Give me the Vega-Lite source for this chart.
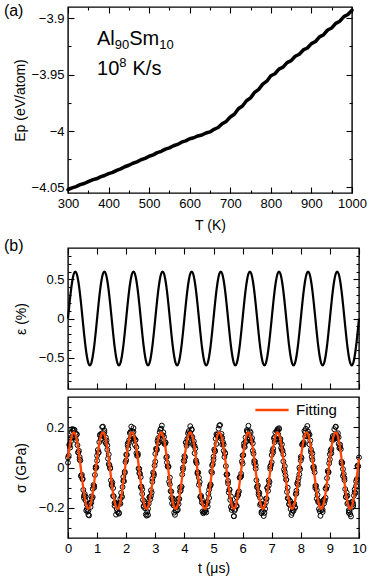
{
"$schema":"https://vega.github.io/schema/vega-lite/v6.json",
"padding":{"top":2,"left":3,"right":3,"bottom":3},
"config":{"view":{"stroke":"black","strokeWidth":1.4},"font":"Liberation Sans","text":{"font":"Liberation Sans"},
"axis":{"labelFont":"Liberation Sans","titleFont":"Liberation Sans","labelFontSize":13,"titleFontSize":14,"titleFontWeight":"normal","labelColor":"black","titleColor":"black","tickColor":"black","tickWidth":1.1,"domain":false,"grid":false,"labelOverlap":false,"labelFlush":false}},
"datasets":{
"ep":[{"T":300,"Ep":-4.0521},{"T":310,"Ep":-4.0504},{"T":320,"Ep":-4.0493},{"T":330,"Ep":-4.0476},{"T":340,"Ep":-4.0466},{"T":350,"Ep":-4.0449},{"T":360,"Ep":-4.0434},{"T":370,"Ep":-4.0424},{"T":380,"Ep":-4.0407},{"T":390,"Ep":-4.0395},{"T":400,"Ep":-4.0378},{"T":410,"Ep":-4.0367},{"T":420,"Ep":-4.0349},{"T":430,"Ep":-4.0336},{"T":440,"Ep":-4.0317},{"T":450,"Ep":-4.0304},{"T":460,"Ep":-4.0286},{"T":470,"Ep":-4.0274},{"T":480,"Ep":-4.0255},{"T":490,"Ep":-4.0243},{"T":500,"Ep":-4.0224},{"T":510,"Ep":-4.0212},{"T":520,"Ep":-4.0192},{"T":530,"Ep":-4.018},{"T":540,"Ep":-4.0161},{"T":550,"Ep":-4.015},{"T":560,"Ep":-4.0131},{"T":570,"Ep":-4.0119},{"T":580,"Ep":-4.0099},{"T":590,"Ep":-4.0088},{"T":600,"Ep":-4.0069},{"T":610,"Ep":-4.006},{"T":620,"Ep":-4.0044},{"T":630,"Ep":-4.0036},{"T":640,"Ep":-4.0018},{"T":650,"Ep":-4.0008},{"T":660,"Ep":-3.9985},{"T":670,"Ep":-3.9969},{"T":680,"Ep":-3.9935},{"T":690,"Ep":-3.9915},{"T":700,"Ep":-3.9876},{"T":710,"Ep":-3.9851},{"T":720,"Ep":-3.9803},{"T":730,"Ep":-3.9778},{"T":740,"Ep":-3.9732},{"T":750,"Ep":-3.9706},{"T":760,"Ep":-3.9657},{"T":770,"Ep":-3.9631},{"T":780,"Ep":-3.9584},{"T":790,"Ep":-3.9558},{"T":800,"Ep":-3.951},{"T":810,"Ep":-3.9492},{"T":820,"Ep":-3.9451},{"T":830,"Ep":-3.9434},{"T":840,"Ep":-3.9394},{"T":850,"Ep":-3.9376},{"T":860,"Ep":-3.9337},{"T":870,"Ep":-3.9319},{"T":880,"Ep":-3.9281},{"T":890,"Ep":-3.9264},{"T":900,"Ep":-3.9225},{"T":910,"Ep":-3.9206},{"T":920,"Ep":-3.9165},{"T":930,"Ep":-3.9146},{"T":940,"Ep":-3.9104},{"T":950,"Ep":-3.9086},{"T":960,"Ep":-3.9045},{"T":970,"Ep":-3.9026},{"T":980,"Ep":-3.8985},{"T":990,"Ep":-3.8966},{"T":1000,"Ep":-3.8928}],
"curves":[
{"t":0,"e":0,"f":0.044},{"t":0.05,"e":0.185,"f":0.097},{"t":0.1,"e":0.353,"f":0.139},{"t":0.15,"e":0.485,"f":0.166},{"t":0.2,"e":0.571,"f":0.175},{"t":0.25,"e":0.6,"f":0.166},{"t":0.3,"e":0.571,"f":0.139},{"t":0.35,"e":0.485,"f":0.097},{"t":0.4,"e":0.353,"f":0.044},{"t":0.45,"e":0.185,"f":-0.015},{"t":0.5,"e":0,"f":-0.074},{"t":0.55,"e":-0.185,"f":-0.127},{"t":0.6,"e":-0.353,"f":-0.169},{"t":0.65,"e":-0.485,"f":-0.196},{"t":0.7,"e":-0.571,"f":-0.205},{"t":0.75,"e":-0.6,"f":-0.196},{"t":0.8,"e":-0.571,"f":-0.169},{"t":0.85,"e":-0.485,"f":-0.127},{"t":0.9,"e":-0.353,"f":-0.074},{"t":0.95,"e":-0.185,"f":-0.015},
{"t":1,"e":0,"f":0.044},{"t":1.05,"e":0.185,"f":0.097},{"t":1.1,"e":0.353,"f":0.139},{"t":1.15,"e":0.485,"f":0.166},{"t":1.2,"e":0.571,"f":0.175},{"t":1.25,"e":0.6,"f":0.166},{"t":1.3,"e":0.571,"f":0.139},{"t":1.35,"e":0.485,"f":0.097},{"t":1.4,"e":0.353,"f":0.044},{"t":1.45,"e":0.185,"f":-0.015},{"t":1.5,"e":0,"f":-0.074},{"t":1.55,"e":-0.185,"f":-0.127},{"t":1.6,"e":-0.353,"f":-0.169},{"t":1.65,"e":-0.485,"f":-0.196},{"t":1.7,"e":-0.571,"f":-0.205},{"t":1.75,"e":-0.6,"f":-0.196},{"t":1.8,"e":-0.571,"f":-0.169},{"t":1.85,"e":-0.485,"f":-0.127},{"t":1.9,"e":-0.353,"f":-0.074},{"t":1.95,"e":-0.185,"f":-0.015},
{"t":2,"e":0,"f":0.044},{"t":2.05,"e":0.185,"f":0.097},{"t":2.1,"e":0.353,"f":0.139},{"t":2.15,"e":0.485,"f":0.166},{"t":2.2,"e":0.571,"f":0.175},{"t":2.25,"e":0.6,"f":0.166},{"t":2.3,"e":0.571,"f":0.139},{"t":2.35,"e":0.485,"f":0.097},{"t":2.4,"e":0.353,"f":0.044},{"t":2.45,"e":0.185,"f":-0.015},{"t":2.5,"e":0,"f":-0.074},{"t":2.55,"e":-0.185,"f":-0.127},{"t":2.6,"e":-0.353,"f":-0.169},{"t":2.65,"e":-0.485,"f":-0.196},{"t":2.7,"e":-0.571,"f":-0.205},{"t":2.75,"e":-0.6,"f":-0.196},{"t":2.8,"e":-0.571,"f":-0.169},{"t":2.85,"e":-0.485,"f":-0.127},{"t":2.9,"e":-0.353,"f":-0.074},{"t":2.95,"e":-0.185,"f":-0.015},
{"t":3,"e":0,"f":0.044},{"t":3.05,"e":0.185,"f":0.097},{"t":3.1,"e":0.353,"f":0.139},{"t":3.15,"e":0.485,"f":0.166},{"t":3.2,"e":0.571,"f":0.175},{"t":3.25,"e":0.6,"f":0.166},{"t":3.3,"e":0.571,"f":0.139},{"t":3.35,"e":0.485,"f":0.097},{"t":3.4,"e":0.353,"f":0.044},{"t":3.45,"e":0.185,"f":-0.015},{"t":3.5,"e":0,"f":-0.074},{"t":3.55,"e":-0.185,"f":-0.127},{"t":3.6,"e":-0.353,"f":-0.169},{"t":3.65,"e":-0.485,"f":-0.196},{"t":3.7,"e":-0.571,"f":-0.205},{"t":3.75,"e":-0.6,"f":-0.196},{"t":3.8,"e":-0.571,"f":-0.169},{"t":3.85,"e":-0.485,"f":-0.127},{"t":3.9,"e":-0.353,"f":-0.074},{"t":3.95,"e":-0.185,"f":-0.015},
{"t":4,"e":0,"f":0.044},{"t":4.05,"e":0.185,"f":0.097},{"t":4.1,"e":0.353,"f":0.139},{"t":4.15,"e":0.485,"f":0.166},{"t":4.2,"e":0.571,"f":0.175},{"t":4.25,"e":0.6,"f":0.166},{"t":4.3,"e":0.571,"f":0.139},{"t":4.35,"e":0.485,"f":0.097},{"t":4.4,"e":0.353,"f":0.044},{"t":4.45,"e":0.185,"f":-0.015},{"t":4.5,"e":0,"f":-0.074},{"t":4.55,"e":-0.185,"f":-0.127},{"t":4.6,"e":-0.353,"f":-0.169},{"t":4.65,"e":-0.485,"f":-0.196},{"t":4.7,"e":-0.571,"f":-0.205},{"t":4.75,"e":-0.6,"f":-0.196},{"t":4.8,"e":-0.571,"f":-0.169},{"t":4.85,"e":-0.485,"f":-0.127},{"t":4.9,"e":-0.353,"f":-0.074},{"t":4.95,"e":-0.185,"f":-0.015},
{"t":5,"e":0,"f":0.044},{"t":5.05,"e":0.185,"f":0.097},{"t":5.1,"e":0.353,"f":0.139},{"t":5.15,"e":0.485,"f":0.166},{"t":5.2,"e":0.571,"f":0.175},{"t":5.25,"e":0.6,"f":0.166},{"t":5.3,"e":0.571,"f":0.139},{"t":5.35,"e":0.485,"f":0.097},{"t":5.4,"e":0.353,"f":0.044},{"t":5.45,"e":0.185,"f":-0.015},{"t":5.5,"e":0,"f":-0.074},{"t":5.55,"e":-0.185,"f":-0.127},{"t":5.6,"e":-0.353,"f":-0.169},{"t":5.65,"e":-0.485,"f":-0.196},{"t":5.7,"e":-0.571,"f":-0.205},{"t":5.75,"e":-0.6,"f":-0.196},{"t":5.8,"e":-0.571,"f":-0.169},{"t":5.85,"e":-0.485,"f":-0.127},{"t":5.9,"e":-0.353,"f":-0.074},{"t":5.95,"e":-0.185,"f":-0.015},
{"t":6,"e":0,"f":0.044},{"t":6.05,"e":0.185,"f":0.097},{"t":6.1,"e":0.353,"f":0.139},{"t":6.15,"e":0.485,"f":0.166},{"t":6.2,"e":0.571,"f":0.175},{"t":6.25,"e":0.6,"f":0.166},{"t":6.3,"e":0.571,"f":0.139},{"t":6.35,"e":0.485,"f":0.097},{"t":6.4,"e":0.353,"f":0.044},{"t":6.45,"e":0.185,"f":-0.015},{"t":6.5,"e":0,"f":-0.074},{"t":6.55,"e":-0.185,"f":-0.127},{"t":6.6,"e":-0.353,"f":-0.169},{"t":6.65,"e":-0.485,"f":-0.196},{"t":6.7,"e":-0.571,"f":-0.205},{"t":6.75,"e":-0.6,"f":-0.196},{"t":6.8,"e":-0.571,"f":-0.169},{"t":6.85,"e":-0.485,"f":-0.127},{"t":6.9,"e":-0.353,"f":-0.074},{"t":6.95,"e":-0.185,"f":-0.015},
{"t":7,"e":0,"f":0.044},{"t":7.05,"e":0.185,"f":0.097},{"t":7.1,"e":0.353,"f":0.139},{"t":7.15,"e":0.485,"f":0.166},{"t":7.2,"e":0.571,"f":0.175},{"t":7.25,"e":0.6,"f":0.166},{"t":7.3,"e":0.571,"f":0.139},{"t":7.35,"e":0.485,"f":0.097},{"t":7.4,"e":0.353,"f":0.044},{"t":7.45,"e":0.185,"f":-0.015},{"t":7.5,"e":0,"f":-0.074},{"t":7.55,"e":-0.185,"f":-0.127},{"t":7.6,"e":-0.353,"f":-0.169},{"t":7.65,"e":-0.485,"f":-0.196},{"t":7.7,"e":-0.571,"f":-0.205},{"t":7.75,"e":-0.6,"f":-0.196},{"t":7.8,"e":-0.571,"f":-0.169},{"t":7.85,"e":-0.485,"f":-0.127},{"t":7.9,"e":-0.353,"f":-0.074},{"t":7.95,"e":-0.185,"f":-0.015},
{"t":8,"e":0,"f":0.044},{"t":8.05,"e":0.185,"f":0.097},{"t":8.1,"e":0.353,"f":0.139},{"t":8.15,"e":0.485,"f":0.166},{"t":8.2,"e":0.571,"f":0.175},{"t":8.25,"e":0.6,"f":0.166},{"t":8.3,"e":0.571,"f":0.139},{"t":8.35,"e":0.485,"f":0.097},{"t":8.4,"e":0.353,"f":0.044},{"t":8.45,"e":0.185,"f":-0.015},{"t":8.5,"e":0,"f":-0.074},{"t":8.55,"e":-0.185,"f":-0.127},{"t":8.6,"e":-0.353,"f":-0.169},{"t":8.65,"e":-0.485,"f":-0.196},{"t":8.7,"e":-0.571,"f":-0.205},{"t":8.75,"e":-0.6,"f":-0.196},{"t":8.8,"e":-0.571,"f":-0.169},{"t":8.85,"e":-0.485,"f":-0.127},{"t":8.9,"e":-0.353,"f":-0.074},{"t":8.95,"e":-0.185,"f":-0.015},
{"t":9,"e":0,"f":0.044},{"t":9.05,"e":0.185,"f":0.097},{"t":9.1,"e":0.353,"f":0.139},{"t":9.15,"e":0.485,"f":0.166},{"t":9.2,"e":0.571,"f":0.175},{"t":9.25,"e":0.6,"f":0.166},{"t":9.3,"e":0.571,"f":0.139},{"t":9.35,"e":0.485,"f":0.097},{"t":9.4,"e":0.353,"f":0.044},{"t":9.45,"e":0.185,"f":-0.015},{"t":9.5,"e":0,"f":-0.074},{"t":9.55,"e":-0.185,"f":-0.127},{"t":9.6,"e":-0.353,"f":-0.169},{"t":9.65,"e":-0.485,"f":-0.196},{"t":9.7,"e":-0.571,"f":-0.205},{"t":9.75,"e":-0.6,"f":-0.196},{"t":9.8,"e":-0.571,"f":-0.169},{"t":9.85,"e":-0.485,"f":-0.127},{"t":9.9,"e":-0.353,"f":-0.074},{"t":9.95,"e":-0.185,"f":-0.015},
{"t":10,"e":0,"f":0.044}],
"sig":[
{"t":0,"s":0.049},{"t":0.025,"s":0.059},{"t":0.05,"s":0.115},{"t":0.075,"s":0.099},{"t":0.1,"s":0.147},{"t":0.125,"s":0.176},{"t":0.15,"s":0.151},{"t":0.175,"s":0.183},{"t":0.2,"s":0.15},{"t":0.225,"s":0.187},{"t":0.25,"s":0.169},{"t":0.275,"s":0.136},{"t":0.3,"s":0.164},{"t":0.325,"s":0.111},{"t":0.35,"s":0.075},{"t":0.375,"s":0.083},{"t":0.4,"s":0.039},{"t":0.425,"s":0.035},{"t":0.45,"s":-0.043},{"t":0.475,"s":-0.036},{"t":0.5,"s":-0.059},{"t":0.525,"s":-0.111},{"t":0.55,"s":-0.151},{"t":0.575,"s":-0.132},{"t":0.6,"s":-0.163},{"t":0.625,"s":-0.214},{"t":0.65,"s":-0.184},{"t":0.675,"s":-0.219},{"t":0.7,"s":-0.213},{"t":0.725,"s":-0.238},{"t":0.75,"s":-0.176},{"t":0.775,"s":-0.196},{"t":0.8,"s":-0.144},{"t":0.825,"s":-0.154},{"t":0.85,"s":-0.147},{"t":0.875,"s":-0.087},{"t":0.9,"s":-0.1},{"t":0.925,"s":-0.037},{"t":0.95,"s":0.003},{"t":0.975,"s":0.001},
{"t":1,"s":0.034},{"t":1.025,"s":0.087},{"t":1.05,"s":0.075},{"t":1.075,"s":0.126},{"t":1.1,"s":0.163},{"t":1.125,"s":0.141},{"t":1.15,"s":0.168},{"t":1.175,"s":0.201},{"t":1.2,"s":0.157},{"t":1.225,"s":0.167},{"t":1.25,"s":0.185},{"t":1.275,"s":0.129},{"t":1.3,"s":0.149},{"t":1.325,"s":0.134},{"t":1.35,"s":0.088},{"t":1.375,"s":0.044},{"t":1.4,"s":0.065},{"t":1.425,"s":0.011},{"t":1.45,"s":-0.002},{"t":1.475,"s":-0.064},{"t":1.5,"s":-0.082},{"t":1.525,"s":-0.075},{"t":1.55,"s":-0.141},{"t":1.575,"s":-0.144},{"t":1.6,"s":-0.19},{"t":1.625,"s":-0.173},{"t":1.65,"s":-0.234},{"t":1.675,"s":-0.206},{"t":1.7,"s":-0.22},{"t":1.725,"s":-0.181},{"t":1.75,"s":-0.224},{"t":1.775,"s":-0.175},{"t":1.8,"s":-0.18},{"t":1.825,"s":-0.126},{"t":1.85,"s":-0.144},{"t":1.875,"s":-0.097},{"t":1.9,"s":-0.047},{"t":1.925,"s":-0.068},{"t":1.95,"s":-0.021},{"t":1.975,"s":0.027},
{"t":2,"s":0.064},{"t":2.025,"s":0.063},{"t":2.05,"s":0.109},{"t":2.075,"s":0.094},{"t":2.1,"s":0.135},{"t":2.125,"s":0.171},{"t":2.15,"s":0.145},{"t":2.175,"s":0.203},{"t":2.2,"s":0.181},{"t":2.225,"s":0.158},{"t":2.25,"s":0.177},{"t":2.275,"s":0.145},{"t":2.3,"s":0.112},{"t":2.325,"s":0.137},{"t":2.35,"s":0.101},{"t":2.375,"s":0.058},{"t":2.4,"s":0.069},{"t":2.425,"s":-0.005},{"t":2.45,"s":-0.007},{"t":2.475,"s":-0.031},{"t":2.5,"s":-0.097},{"t":2.525,"s":-0.095},{"t":2.55,"s":-0.108},{"t":2.575,"s":-0.161},{"t":2.6,"s":-0.195},{"t":2.625,"s":-0.168},{"t":2.65,"s":-0.203},{"t":2.675,"s":-0.233},{"t":2.7,"s":-0.192},{"t":2.725,"s":-0.221},{"t":2.75,"s":-0.236},{"t":2.775,"s":-0.179},{"t":2.8,"s":-0.148},{"t":2.825,"s":-0.158},{"t":2.85,"s":-0.113},{"t":2.875,"s":-0.125},{"t":2.9,"s":-0.071},{"t":2.925,"s":-0.025},{"t":2.95,"s":-0.031},{"t":2.975,"s":0.01},
{"t":3,"s":0.029},{"t":3.025,"s":0.093},{"t":3.05,"s":0.092},{"t":3.075,"s":0.132},{"t":3.1,"s":0.12},{"t":3.125,"s":0.126},{"t":3.15,"s":0.175},{"t":3.175,"s":0.188},{"t":3.2,"s":0.163},{"t":3.225,"s":0.208},{"t":3.25,"s":0.16},{"t":3.275,"s":0.175},{"t":3.3,"s":0.122},{"t":3.325,"s":0.116},{"t":3.35,"s":0.123},{"t":3.375,"s":0.049},{"t":3.4,"s":0.054},{"t":3.425,"s":0.004},{"t":3.45,"s":0.003},{"t":3.475,"s":-0.071},{"t":3.5,"s":-0.05},{"t":3.525,"s":-0.117},{"t":3.55,"s":-0.12},{"t":3.575,"s":-0.178},{"t":3.6,"s":-0.157},{"t":3.625,"s":-0.188},{"t":3.65,"s":-0.176},{"t":3.675,"s":-0.235},{"t":3.7,"s":-0.215},{"t":3.725,"s":-0.195},{"t":3.75,"s":-0.214},{"t":3.775,"s":-0.209},{"t":3.8,"s":-0.154},{"t":3.825,"s":-0.156},{"t":3.85,"s":-0.099},{"t":3.875,"s":-0.114},{"t":3.9,"s":-0.095},{"t":3.925,"s":-0.035},{"t":3.95,"s":-0.01},{"t":3.975,"s":0.034},
{"t":4,"s":0.056},{"t":4.025,"s":0.051},{"t":4.05,"s":0.124},{"t":4.075,"s":0.108},{"t":4.1,"s":0.142},{"t":4.125,"s":0.17},{"t":4.15,"s":0.142},{"t":4.175,"s":0.166},{"t":4.2,"s":0.205},{"t":4.225,"s":0.159},{"t":4.25,"s":0.187},{"t":4.275,"s":0.151},{"t":4.3,"s":0.12},{"t":4.325,"s":0.13},{"t":4.35,"s":0.071},{"t":4.375,"s":0.095},{"t":4.4,"s":0.035},{"t":4.425,"s":0.021},{"t":4.45,"s":-0.03},{"t":4.475,"s":-0.025},{"t":4.5,"s":-0.086},{"t":4.525,"s":-0.072},{"t":4.55,"s":-0.147},{"t":4.575,"s":-0.141},{"t":4.6,"s":-0.174},{"t":4.625,"s":-0.218},{"t":4.65,"s":-0.181},{"t":4.675,"s":-0.221},{"t":4.7,"s":-0.183},{"t":4.725,"s":-0.212},{"t":4.75,"s":-0.223},{"t":4.775,"s":-0.171},{"t":4.8,"s":-0.172},{"t":4.825,"s":-0.13},{"t":4.85,"s":-0.151},{"t":4.875,"s":-0.094},{"t":4.9,"s":-0.088},{"t":4.925,"s":-0.02},{"t":4.95,"s":-0.026},{"t":4.975,"s":0.017},
{"t":5,"s":0.038},{"t":5.025,"s":0.089},{"t":5.05,"s":0.083},{"t":5.075,"s":0.143},{"t":5.1,"s":0.117},{"t":5.125,"s":0.163},{"t":5.15,"s":0.163},{"t":5.175,"s":0.193},{"t":5.2,"s":0.159},{"t":5.225,"s":0.211},{"t":5.25,"s":0.156},{"t":5.275,"s":0.167},{"t":5.3,"s":0.114},{"t":5.325,"s":0.125},{"t":5.35,"s":0.114},{"t":5.375,"s":0.052},{"t":5.4,"s":0.072},{"t":5.425,"s":0.007},{"t":5.45,"s":-0.036},{"t":5.475,"s":-0.034},{"t":5.5,"s":-0.067},{"t":5.525,"s":-0.124},{"t":5.55,"s":-0.111},{"t":5.575,"s":-0.161},{"t":5.6,"s":-0.144},{"t":5.625,"s":-0.211},{"t":5.65,"s":-0.202},{"t":5.675,"s":-0.189},{"t":5.7,"s":-0.241},{"t":5.725,"s":-0.214},{"t":5.75,"s":-0.177},{"t":5.775,"s":-0.192},{"t":5.8,"s":-0.192},{"t":5.825,"s":-0.137},{"t":5.85,"s":-0.124},{"t":5.875,"s":-0.118},{"t":5.9,"s":-0.05},{"t":5.925,"s":-0.049},{"t":5.95,"s":-0.043},{"t":5.975,"s":0.03},
{"t":6,"s":0.06},{"t":6.025,"s":0.062},{"t":6.05,"s":0.12},{"t":6.075,"s":0.102},{"t":6.1,"s":0.149},{"t":6.125,"s":0.128},{"t":6.15,"s":0.18},{"t":6.175,"s":0.177},{"t":6.2,"s":0.207},{"t":6.225,"s":0.161},{"t":6.25,"s":0.146},{"t":6.275,"s":0.173},{"t":6.3,"s":0.134},{"t":6.325,"s":0.146},{"t":6.35,"s":0.083},{"t":6.375,"s":0.069},{"t":6.4,"s":0.021},{"t":6.425,"s":0.03},{"t":6.45,"s":-0.006},{"t":6.475,"s":-0.063},{"t":6.5,"s":-0.099},{"t":6.525,"s":-0.089},{"t":6.55,"s":-0.135},{"t":6.575,"s":-0.127},{"t":6.6,"s":-0.185},{"t":6.625,"s":-0.179},{"t":6.65,"s":-0.227},{"t":6.675,"s":-0.185},{"t":6.7,"s":-0.217},{"t":6.725,"s":-0.241},{"t":6.75,"s":-0.189},{"t":6.775,"s":-0.205},{"t":6.8,"s":-0.155},{"t":6.825,"s":-0.155},{"t":6.85,"s":-0.101},{"t":6.875,"s":-0.116},{"t":6.9,"s":-0.064},{"t":6.925,"s":-0.072},{"t":6.95,"s":0.005},{"t":6.975,"s":0.012},
{"t":7,"s":0.026},{"t":7.025,"s":0.082},{"t":7.05,"s":0.093},{"t":7.075,"s":0.145},{"t":7.1,"s":0.126},{"t":7.125,"s":0.174},{"t":7.15,"s":0.139},{"t":7.175,"s":0.181},{"t":7.2,"s":0.19},{"t":7.225,"s":0.164},{"t":7.25,"s":0.19},{"t":7.275,"s":0.138},{"t":7.3,"s":0.142},{"t":7.325,"s":0.097},{"t":7.35,"s":0.115},{"t":7.375,"s":0.082},{"t":7.4,"s":0.03},{"t":7.425,"s":-0.01},{"t":7.45,"s":0.007},{"t":7.475,"s":-0.04},{"t":7.5,"s":-0.061},{"t":7.525,"s":-0.121},{"t":7.55,"s":-0.1},{"t":7.575,"s":-0.155},{"t":7.6,"s":-0.184},{"t":7.625,"s":-0.165},{"t":7.65,"s":-0.206},{"t":7.675,"s":-0.236},{"t":7.7,"s":-0.181},{"t":7.725,"s":-0.211},{"t":7.75,"s":-0.215},{"t":7.775,"s":-0.18},{"t":7.8,"s":-0.197},{"t":7.825,"s":-0.132},{"t":7.85,"s":-0.129},{"t":7.875,"s":-0.08},{"t":7.9,"s":-0.086},{"t":7.925,"s":-0.052},{"t":7.95,"s":-0.001},{"t":7.975,"s":-0.009},
{"t":8,"s":0.053},{"t":8.025,"s":0.048},{"t":8.05,"s":0.113},{"t":8.075,"s":0.121},{"t":8.1,"s":0.124},{"t":8.125,"s":0.182},{"t":8.15,"s":0.155},{"t":8.175,"s":0.192},{"t":8.2,"s":0.155},{"t":8.225,"s":0.206},{"t":8.25,"s":0.162},{"t":8.275,"s":0.166},{"t":8.3,"s":0.115},{"t":8.325,"s":0.134},{"t":8.35,"s":0.089},{"t":8.375,"s":0.053},{"t":8.4,"s":0.07},{"t":8.425,"s":0.002},{"t":8.45,"s":-0.008},{"t":8.475,"s":-0.024},{"t":8.5,"s":-0.091},{"t":8.525,"s":-0.091},{"t":8.55,"s":-0.155},{"t":8.575,"s":-0.136},{"t":8.6,"s":-0.165},{"t":8.625,"s":-0.206},{"t":8.65,"s":-0.178},{"t":8.675,"s":-0.24},{"t":8.7,"s":-0.211},{"t":8.725,"s":-0.192},{"t":8.75,"s":-0.221},{"t":8.775,"s":-0.164},{"t":8.8,"s":-0.178},{"t":8.825,"s":-0.165},{"t":8.85,"s":-0.104},{"t":8.875,"s":-0.106},{"t":8.9,"s":-0.093},{"t":8.925,"s":-0.017},{"t":8.95,"s":-0.025},{"t":8.975,"s":0.021},
{"t":9,"s":0.04},{"t":9.025,"s":0.085},{"t":9.05,"s":0.071},{"t":9.075,"s":0.138},{"t":9.1,"s":0.146},{"t":9.125,"s":0.138},{"t":9.15,"s":0.19},{"t":9.175,"s":0.161},{"t":9.2,"s":0.203},{"t":9.225,"s":0.165},{"t":9.25,"s":0.145},{"t":9.275,"s":0.17},{"t":9.3,"s":0.15},{"t":9.325,"s":0.096},{"t":9.35,"s":0.1},{"t":9.375,"s":0.091},{"t":9.4,"s":0.029},{"t":9.425,"s":0.023},{"t":9.45,"s":-0.042},{"t":9.475,"s":-0.032},{"t":9.5,"s":-0.052},{"t":9.525,"s":-0.107},{"t":9.55,"s":-0.145},{"t":9.575,"s":-0.124},{"t":9.6,"s":-0.18},{"t":9.625,"s":-0.175},{"t":9.65,"s":-0.225},{"t":9.675,"s":-0.217},{"t":9.7,"s":-0.185},{"t":9.725,"s":-0.243},{"t":9.75,"s":-0.199},{"t":9.775,"s":-0.169},{"t":9.8,"s":-0.191},{"t":9.825,"s":-0.139},{"t":9.85,"s":-0.109},{"t":9.875,"s":-0.127},{"t":9.9,"s":-0.068},{"t":9.925,"s":-0.058},{"t":9.95,"s":0.009},{"t":9.975,"s":0.006},
{"t":10,"s":0.05},
{"t":0,"s":0.024},{"t":0.05,"s":0.111},{"t":0.1,"s":0.13},{"t":0.15,"s":0.191},{"t":0.2,"s":0.187},{"t":0.25,"s":0.148},{"t":0.3,"s":0.166},{"t":0.35,"s":0.075},{"t":0.4,"s":0.052},{"t":0.45,"s":-0.041},{"t":0.5,"s":-0.055},{"t":0.55,"s":-0.14},{"t":0.6,"s":-0.145},{"t":0.65,"s":-0.206},{"t":0.7,"s":-0.235},{"t":0.75,"s":-0.18},{"t":0.8,"s":-0.175},{"t":0.85,"s":-0.106},{"t":0.9,"s":-0.091},{"t":0.95,"s":-0.004},
{"t":1,"s":0.059},{"t":1.05,"s":0.073},{"t":1.1,"s":0.159},{"t":1.15,"s":0.159},{"t":1.2,"s":0.203},{"t":1.25,"s":0.175},{"t":1.3,"s":0.12},{"t":1.35,"s":0.11},{"t":1.4,"s":0.017},{"t":1.45,"s":-0.005},{"t":1.5,"s":-0.089},{"t":1.55,"s":-0.102},{"t":1.6,"s":-0.177},{"t":1.65,"s":-0.178},{"t":1.7,"s":-0.183},{"t":1.75,"s":-0.229},{"t":1.8,"s":-0.155},{"t":1.85,"s":-0.147},{"t":1.9,"s":-0.067},{"t":1.95,"s":-0.027},
{"t":2,"s":0.036},{"t":2.05,"s":0.119},{"t":2.1,"s":0.123},{"t":2.15,"s":0.177},{"t":2.2,"s":0.154},{"t":2.25,"s":0.196},{"t":2.3,"s":0.134},{"t":2.35,"s":0.071},{"t":2.4,"s":0.061},{"t":2.45,"s":-0.028},{"t":2.5,"s":-0.048},{"t":2.55,"s":-0.131},{"t":2.6,"s":-0.191},{"t":2.65,"s":-0.181},{"t":2.7,"s":-0.239},{"t":2.75,"s":-0.205},{"t":2.8,"s":-0.146},{"t":2.85,"s":-0.141},{"t":2.9,"s":-0.055},{"t":2.95,"s":-0.04},
{"t":3,"s":0.068},{"t":3.05,"s":0.086},{"t":3.1,"s":0.146},{"t":3.15,"s":0.143},{"t":3.2,"s":0.193},{"t":3.25,"s":0.16},{"t":3.3,"s":0.152},{"t":3.35,"s":0.125},{"t":3.4,"s":0.025},{"t":3.45,"s":0.006},{"t":3.5,"s":-0.083},{"t":3.55,"s":-0.151},{"t":3.6,"s":-0.153},{"t":3.65,"s":-0.224},{"t":3.7,"s":-0.194},{"t":3.75,"s":-0.176},{"t":3.8,"s":-0.182},{"t":3.85,"s":-0.119},{"t":3.9,"s":-0.096},{"t":3.95,"s":-0.001},
{"t":4,"s":0.031},{"t":4.05,"s":0.124},{"t":4.1,"s":0.119},{"t":4.15,"s":0.181},{"t":4.2,"s":0.171},{"t":4.25,"s":0.19},{"t":4.3,"s":0.112},{"t":4.35,"s":0.107},{"t":4.4,"s":0.028},{"t":4.45,"s":-0.023},{"t":4.5,"s":-0.051},{"t":4.55,"s":-0.145},{"t":4.6,"s":-0.16},{"t":4.65,"s":-0.227},{"t":4.7,"s":-0.22},{"t":4.75,"s":-0.184},{"t":4.8,"s":-0.194},{"t":4.85,"s":-0.11},{"t":4.9,"s":-0.084},{"t":4.95,"s":0.011},
{"t":5,"s":0.054},{"t":5.05,"s":0.08},{"t":5.1,"s":0.165},{"t":5.15,"s":0.154},{"t":5.2,"s":0.208},{"t":5.25,"s":0.145},{"t":5.3,"s":0.147},{"t":5.35,"s":0.083},{"t":5.4,"s":0.069},{"t":5.45,"s":-0.034},{"t":5.5,"s":-0.079},{"t":5.55,"s":-0.109},{"t":5.6,"s":-0.196},{"t":5.65,"s":-0.184},{"t":5.7,"s":-0.242},{"t":5.75,"s":-0.206},{"t":5.8,"s":-0.149},{"t":5.85,"s":-0.136},{"t":5.9,"s":-0.05},{"t":5.95,"s":-0.031},
{"t":6,"s":0.019},{"t":6.05,"s":0.106},{"t":6.1,"s":0.126},{"t":6.15,"s":0.186},{"t":6.2,"s":0.149},{"t":6.25,"s":0.18},{"t":6.3,"s":0.131},{"t":6.35,"s":0.12},{"t":6.4,"s":0.033},{"t":6.45,"s":0.012},{"t":6.5,"s":-0.095},{"t":6.55,"s":-0.121},{"t":6.6,"s":-0.15},{"t":6.65,"s":-0.22},{"t":6.7,"s":-0.192},{"t":6.75,"s":-0.225},{"t":6.8,"s":-0.173},{"t":6.85,"s":-0.101},{"t":6.9,"s":-0.089},{"t":6.95,"s":-0.007},
{"t":7,"s":0.062},{"t":7.05,"s":0.075},{"t":7.1,"s":0.15},{"t":7.15,"s":0.139},{"t":7.2,"s":0.182},{"t":7.25,"s":0.195},{"t":7.3,"s":0.124},{"t":7.35,"s":0.088},{"t":7.4,"s":0.065},{"t":7.45,"s":-0.021},{"t":7.5,"s":-0.06},{"t":7.55,"s":-0.152},{"t":7.6,"s":-0.181},{"t":7.65,"s":-0.171},{"t":7.7,"s":-0.225},{"t":7.75,"s":-0.187},{"t":7.8,"s":-0.2},{"t":7.85,"s":-0.115},{"t":7.9,"s":-0.069},{"t":7.95,"s":-0.034},
{"t":8,"s":0.035},{"t":8.05,"s":0.113},{"t":8.1,"s":0.114},{"t":8.15,"s":0.174},{"t":8.2,"s":0.158},{"t":8.25,"s":0.178},{"t":8.3,"s":0.163},{"t":8.35,"s":0.077},{"t":8.4,"s":0.038},{"t":8.45,"s":0.004},{"t":8.5,"s":-0.102},{"t":8.55,"s":-0.112},{"t":8.6,"s":-0.172},{"t":8.65,"s":-0.217},{"t":8.7,"s":-0.178},{"t":8.75,"s":-0.21},{"t":8.8,"s":-0.159},{"t":8.85,"s":-0.15},{"t":8.9,"s":-0.053},{"t":8.95,"s":-0.022},
{"t":9,"s":0.066},{"t":9.05,"s":0.092},{"t":9.1,"s":0.156},{"t":9.15,"s":0.147},{"t":9.2,"s":0.201},{"t":9.25,"s":0.153},{"t":9.3,"s":0.117},{"t":9.35,"s":0.113},{"t":9.4,"s":0.02},{"t":9.45,"s":-0.008},{"t":9.5,"s":-0.063},{"t":9.55,"s":-0.147},{"t":9.6,"s":-0.141},{"t":9.65,"s":-0.212},{"t":9.7,"s":-0.232},{"t":9.75,"s":-0.175},{"t":9.8,"s":-0.18},{"t":9.85,"s":-0.123},{"t":9.9,"s":-0.092},{"t":9.95,"s":0.008}]
},
"spacing":4,
"resolve":{"scale":{"color":"independent"},"legend":{"color":"independent"}},
"vconcat":[
{"width":284,"height":186,"data":{"name":"ep"},
 "layer":[
  {"mark":{"type":"line","color":"black","strokeWidth":3.5,"strokeJoin":"round","strokeCap":"round"},
   "encoding":{
    "x":{"field":"T","type":"quantitative","scale":{"domain":[300,1000],"nice":false},
     "axis":{"orient":"bottom","title":"T (K)","format":"d","values":[300,350,400,450,500,550,600,650,700,750,800,850,900,950,1000],"labelExpr":"datum.value % 100 == 0 ? datum.label : ''","tickSize":{"condition":{"test":"datum.value % 100 == 0","value":-6},"value":-3},"labelPadding":10,"titlePadding":5}},
    "y":{"field":"Ep","type":"quantitative","scale":{"domain":[-4.055,-3.89],"nice":false,"zero":false},
     "axis":{"orient":"left","title":"Ep (eV/atom)","format":"~g","values":[-4.05,-4.025,-4,-3.975,-3.95,-3.925,-3.9],"labelExpr":"abs(round(datum.value*1000)) % 50 == 0 ? datum.label : ''","tickSize":{"condition":{"test":"abs(round(datum.value*1000)) % 50 == 0","value":-6},"value":-3},"labelPadding":10,"titlePadding":4}}}},
  {"mark":{"type":"point","opacity":0},
   "encoding":{
    "x":{"field":"T","type":"quantitative","scale":{"domain":[300,1000],"nice":false},
     "axis":{"orient":"top","labels":false,"title":null,"values":[300,350,400,450,500,550,600,650,700,750,800,850,900,950,1000],"tickSize":{"condition":{"test":"datum.value % 100 == 0","value":-6},"value":-3}}},
    "y":{"field":"Ep","type":"quantitative","scale":{"domain":[-4.055,-3.89],"nice":false,"zero":false},
     "axis":{"orient":"right","labels":false,"title":null,"values":[-4.05,-4.025,-4,-3.975,-3.95,-3.925,-3.9],"tickSize":{"condition":{"test":"abs(round(datum.value*1000)) % 50 == 0","value":-6},"value":-3}}}}},
  {"data":{"values":[{"x":371.5,"y":-3.9236,"txt":"Al"},{"x":451,"y":-3.9236,"txt":"Sm"},{"x":371.5,"y":-3.9501,"txt":"10"},{"x":459,"y":-3.9501,"txt":"K/s"}]},
   "mark":{"type":"text","fontSize":20,"align":"left","baseline":"alphabetic","color":"black"},
   "encoding":{"x":{"field":"x","type":"quantitative","axis":null,"scale":{"domain":[300,1000],"nice":false}},"y":{"field":"y","type":"quantitative","axis":null,"scale":{"domain":[-4.055,-3.89],"nice":false,"zero":false}},"text":{"field":"txt"}}},
  {"data":{"values":[{"x":415.3,"y":-3.9271,"txt":"90"},{"x":525,"y":-3.9271,"txt":"10"},{"x":426.3,"y":-3.9428,"txt":"8"}]},
   "mark":{"type":"text","fontSize":13,"align":"left","baseline":"alphabetic","color":"black"},
   "encoding":{"x":{"field":"x","type":"quantitative","axis":null,"scale":{"domain":[300,1000],"nice":false}},"y":{"field":"y","type":"quantitative","axis":null,"scale":{"domain":[-4.055,-3.89],"nice":false,"zero":false}},"text":{"field":"txt"}}},
  {"data":{"values":[{"x":142,"y":-3.898,"txt":"(a)"}]},
   "mark":{"type":"text","fontSize":16,"align":"left","baseline":"alphabetic","color":"black"},
   "encoding":{"x":{"field":"x","type":"quantitative","axis":null,"scale":{"domain":[300,1000],"nice":false}},"y":{"field":"y","type":"quantitative","axis":null,"scale":{"domain":[-4.055,-3.89],"nice":false,"zero":false}},"text":{"field":"txt"}}}
 ],
 "resolve":{"axis":{"x":"independent","y":"independent"}}},
{"spacing":0,
 "resolve":{"scale":{"color":"independent"},"legend":{"color":"independent"}},
 "vconcat":[
  {"width":291,"height":141,"data":{"name":"curves"},
   "layer":[
    {"mark":{"type":"line","color":"black","strokeWidth":2.2,"interpolate":"monotone"},
     "encoding":{
      "x":{"field":"t","type":"quantitative","scale":{"domain":[0,10],"nice":false},
       "axis":{"orient":"bottom","labels":false,"title":null,"values":[0,1,2,3,4,5,6,7,8,9,10],"tickSize":-6}},
      "y":{"field":"e","type":"quantitative","scale":{"domain":[-0.9,0.9],"nice":false},
       "axis":{"orient":"left","title":"ε (%)","format":"~g","values":[-0.8,-0.7,-0.6,-0.5,-0.4,-0.3,-0.2,-0.1,0,0.1,0.2,0.3,0.4,0.5,0.6,0.7,0.8],"labelExpr":"abs(round(datum.value*10)) % 5 == 0 ? datum.label : ''","tickSize":{"condition":{"test":"abs(round(datum.value*10)) % 5 == 0","value":-6},"value":-3},"labelPadding":10,"titlePadding":10}}}},
    {"mark":{"type":"point","opacity":0},
     "encoding":{
      "x":{"field":"t","type":"quantitative","scale":{"domain":[0,10],"nice":false},
       "axis":{"orient":"top","labels":false,"title":null,"values":[0,1,2,3,4,5,6,7,8,9,10],"tickSize":-6}},
      "y":{"field":"e","type":"quantitative","scale":{"domain":[-0.9,0.9],"nice":false},
       "axis":{"orient":"right","labels":false,"title":null,"values":[-0.8,-0.7,-0.6,-0.5,-0.4,-0.3,-0.2,-0.1,0,0.1,0.2,0.3,0.4,0.5,0.6,0.7,0.8],"tickSize":{"condition":{"test":"abs(round(datum.value*10)) % 5 == 0","value":-6},"value":-3}}}}},
    {"data":{"values":[{"x":-2.2,"y":0.862,"txt":"(b)"}]},
     "mark":{"type":"text","fontSize":16,"align":"left","baseline":"alphabetic","color":"black"},
     "encoding":{"x":{"field":"x","type":"quantitative","axis":null,"scale":{"domain":[0,10],"nice":false}},"y":{"field":"y","type":"quantitative","axis":null,"scale":{"domain":[-0.9,0.9],"nice":false}},"text":{"field":"txt"}}}
   ],
   "resolve":{"axis":{"x":"independent","y":"independent"}}},
  {"width":291,"height":141,
   "layer":[
    {"data":{"name":"sig"},
     "mark":{"type":"point","shape":"circle","filled":false,"stroke":"black","strokeWidth":1,"size":24,"opacity":1},
     "encoding":{
      "x":{"field":"t","type":"quantitative","scale":{"domain":[0,10],"nice":false},
       "axis":{"orient":"bottom","title":"t (μs)","values":[0,1,2,3,4,5,6,7,8,9,10],"tickSize":-6,"labelPadding":10,"titlePadding":6}},
      "y":{"field":"s","type":"quantitative","scale":{"domain":[-0.35,0.35],"nice":false},
       "axis":{"orient":"left","title":"σ (GPa)","format":"~g","values":[-0.3,-0.25,-0.2,-0.15,-0.1,-0.05,0,0.05,0.1,0.15,0.2,0.25,0.3],"labelExpr":"abs(round(datum.value*100)) % 20 == 0 ? datum.label : ''","tickSize":{"condition":{"test":"abs(round(datum.value*100)) % 20 == 0","value":-6},"value":-3},"labelPadding":10,"titlePadding":10}}}},
    {"data":{"name":"curves"},
     "mark":{"type":"line","strokeWidth":2.3,"interpolate":"monotone"},
     "encoding":{
      "x":{"field":"t","type":"quantitative","scale":{"domain":[0,10],"nice":false},"axis":null},
      "y":{"field":"f","type":"quantitative","scale":{"domain":[-0.35,0.35],"nice":false},
       "axis":{"orient":"right","labels":false,"title":null,"values":[-0.3,-0.25,-0.2,-0.15,-0.1,-0.05,0,0.05,0.1,0.15,0.2,0.25,0.3],"tickSize":{"condition":{"test":"abs(round(datum.value*100)) % 20 == 0","value":-6},"value":-3}}},
      "color":{"datum":"Fitting","type":"nominal","scale":{"range":["#ff4500"]},
       "legend":{"orient":"none","legendX":186,"legendY":-5,"title":null,"symbolType":"stroke","symbolSize":1100,"symbolStrokeWidth":2.5,"labelFontSize":15,"labelFont":"Liberation Sans","labelColor":"black","padding":0,"labelOffset":6}}}}
   ],
   "resolve":{"axis":{"x":"independent","y":"independent"}}}
 ]}
]
}
